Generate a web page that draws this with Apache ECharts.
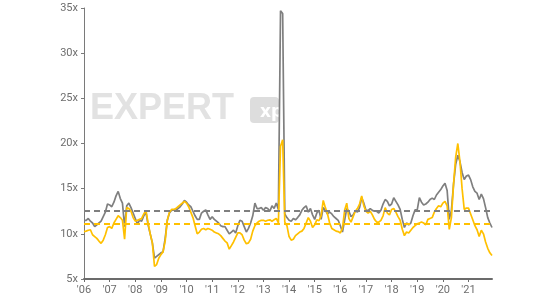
<!DOCTYPE html>
<html>
<head>
<meta charset="utf-8">
<script src="https://cdn.jsdelivr.net/npm/echarts@6/dist/echarts.min.js"></script>
<style>html,body{margin:0;padding:0;background:#fff}#c{width:550px;height:302px}</style>
</head>
<body>
<div id="c"></div>
<script>
// Monthly data, Jan 2006 .. Dec 2021
const startYear = 2006;
const monthCount = 192;
const yTicks = [5, 10, 15, 20, 25, 30, 35];
const greyAvg = 12.6;
const yellowAvg = 11.1;

const greySeries = [
  11.5, 11.5, 11.7, 11.4, 11.2, 10.8, 11.0, 11.2, 11.4, 11.9,
  12.4, 13.3, 13.2, 13.0, 13.5, 14.2, 14.7, 13.9, 13.4, 10.8,
  13.1, 13.4, 12.9, 12.3, 11.7, 11.1, 11.5, 11.4, 12.0, 12.4,
  11.0, 10.0, 9.0, 7.3, 7.5, 7.7, 7.9, 8.0, 9.5, 11.5,
  12.3, 12.6, 12.65, 12.6, 12.8, 13.0, 13.3, 13.7, 13.5, 13.2,
  13.0, 12.5, 12.0, 11.6, 11.6, 12.3, 12.5, 12.65, 12.1, 11.6,
  11.9, 11.6, 11.4, 11.2, 10.9, 10.8, 10.8, 10.4, 10.0, 10.2,
  10.4, 10.1, 10.9, 11.5, 11.4, 10.8, 10.2, 10.6, 11.2, 12.0,
  13.4, 12.8, 12.8, 12.9, 12.6, 12.9, 12.8, 12.5, 13.1, 12.8,
  13.4, 12.7, 34.7, 34.4, 12.2, 11.8, 11.5, 11.4, 11.7, 11.55,
  11.8, 12.1, 12.6, 12.9, 13.1, 12.4, 12.8, 12.1, 11.6, 12.3,
  12.6, 11.6, 12.9, 12.6, 12.2, 12.4, 12.2, 11.9, 11.7, 11.5,
  10.9, 10.2, 11.5, 12.8, 12.5, 11.9, 12.1, 12.55, 12.4, 12.9,
  14.0, 13.4, 12.6, 12.6, 12.8, 12.6, 12.5, 12.5, 12.3, 12.6,
  13.3, 13.8, 13.6, 13.1, 13.3, 14.0, 13.6, 13.2, 12.7, 11.6,
  10.7, 11.2, 11.0, 11.2, 12.0, 12.65, 12.65, 14.0, 13.5, 13.2,
  13.3, 13.5, 13.8, 13.95, 13.8, 14.3, 14.6, 14.9, 15.3, 15.6,
  14.8, 11.6, 12.6, 15.5, 17.7, 18.7, 18.0, 16.8, 16.0, 16.4,
  16.5, 16.0, 15.2, 14.7, 14.5, 13.8, 14.4, 13.9, 12.9, 11.8,
  11.2, 10.7
];

const yellowSeries = [
  10.25, 10.3, 10.4, 10.45, 9.9, 9.7, 9.5, 9.2, 8.95, 9.3,
  9.9, 10.7, 10.8, 10.6, 11.2, 11.6, 12.0, 11.8, 11.5, 9.4,
  12.9, 12.8, 12.5, 11.8, 11.4, 11.5, 11.6, 11.7, 12.2, 12.6,
  11.2, 10.0, 9.0, 6.4, 6.6, 7.3, 7.7, 8.0, 9.2, 11.5,
  12.4, 12.7, 12.7, 12.8, 13.0, 13.2, 13.4, 13.6, 13.4, 13.0,
  12.4, 11.8, 10.9, 10.0, 10.2, 10.5, 10.6, 10.45, 10.6, 10.5,
  10.4, 10.2, 10.1, 10.0, 9.8, 9.5, 9.2, 9.0, 8.3, 8.7,
  9.1, 9.6, 10.1, 10.1, 9.9, 9.3, 8.9, 9.0, 9.4, 10.3,
  10.9, 11.2, 11.4, 11.5, 11.5, 11.4, 11.5, 11.55, 11.4, 11.55,
  11.7, 11.2, 19.7, 20.4, 11.3, 10.9, 9.7, 9.3, 9.4, 9.8,
  10.0, 10.2, 10.3, 10.6, 11.2, 11.8, 11.4, 10.7, 11.0, 11.55,
  11.45, 12.0, 13.7, 12.9, 12.2, 11.2, 10.6, 10.45, 10.3, 10.25,
  10.1, 10.6, 12.6, 13.4, 11.7, 11.3, 11.9, 12.5, 12.8, 13.3,
  14.2, 13.1, 12.5, 12.3, 12.5, 12.1, 11.6, 11.3, 11.3, 11.5,
  12.0, 12.9, 12.3, 12.1, 12.7, 12.8, 12.4, 11.9, 11.5, 10.5,
  9.8, 10.2, 10.1, 10.4, 10.7, 10.9, 11.1, 11.2, 11.3, 11.2,
  11.0, 11.6, 11.7, 11.8, 12.4, 12.8, 13.1, 13.0, 13.4, 13.6,
  13.1, 10.5, 11.8, 15.5, 18.5, 20.0, 18.0, 15.0, 12.7, 12.85,
  12.85, 12.2, 11.55, 10.9, 10.45, 9.7, 10.4, 10.0, 9.1, 8.4,
  7.9, 7.6
];

const categories = [];
for (let i = 0; i < monthCount; i++) {
  const y = startYear + Math.floor(i / 12);
  const m = (i % 12) + 1;
  categories.push(y + '-' + (m < 10 ? '0' + m : m));
}

const chart = echarts.init(document.getElementById('c'), null, {renderer: 'canvas'});
const GREY = '#7f7f7f';
const GOLD = '#FFC000';

chart.setOption({
  animation: false,
  backgroundColor: '#ffffff',
  grid: {left: 84, right: 58, top: 8, bottom: 23, containLabel: false},
  graphic: [
    {type: 'text', left: 90, top: 91, z: 0, silent: true,
     style: {text: 'EXPERT', fontSize: 36, fontWeight: 'bold', fontFamily: 'Liberation Sans', fill: '#e2e2e2'}},
    {type: 'rect', left: 250, top: 97, z: 0, silent: true,
     shape: {width: 29, height: 26, r: 4}, style: {fill: '#dddddd'}},
    {type: 'text', left: 260, top: 104, z: 0, silent: true,
     style: {text: 'xp', fontSize: 17, fontWeight: 'bold', fontFamily: 'DejaVu Sans', fill: '#ffffff'}}
  ],
  xAxis: {
    type: 'category',
    data: categories,
    boundaryGap: false,
    axisLine: {show: true, lineStyle: {color: '#6b6b6b', width: 2}},
    axisTick: {show: true, length: 3, interval: function (idx) { return idx % 12 === 0; }, lineStyle: {color: '#6b6b6b'}},
    axisLabel: {
      interval: function (idx) { return idx % 12 === 0; },
      formatter: function (v) { return "'" + v.slice(2, 4); },
      color: '#6e6e6e', fontSize: 11, fontFamily: 'Roboto', margin: 6
    },
    splitLine: {show: false}
  },
  yAxis: {
    type: 'value',
    min: yTicks[0], max: yTicks[yTicks.length - 1], interval: 5,
    axisLine: {show: true, lineStyle: {color: '#7a7a7a', width: 1}},
    axisTick: {show: true, length: 3, lineStyle: {color: '#7a7a7a'}},
    axisLabel: {formatter: '{value}x', color: '#6e6e6e', fontSize: 11, fontFamily: 'Roboto', margin: 6},
    splitLine: {show: false}
  },
  series: [
    {
      type: 'line', data: greySeries, symbol: 'none', z: 3,
      lineStyle: {color: GREY, width: 1.7},
      markLine: {
        silent: true, symbol: 'none', label: {show: false},
        lineStyle: {color: GREY, type: [6, 4], width: 2},
        data: [{yAxis: greyAvg}]
      }
    },
    {
      type: 'line', data: yellowSeries, symbol: 'none', z: 4,
      lineStyle: {color: GOLD, width: 1.7},
      markLine: {
        silent: true, symbol: 'none', label: {show: false},
        lineStyle: {color: GOLD, type: [6, 4], width: 2},
        data: [{yAxis: yellowAvg}]
      }
    }
  ]
});
</script>
</body>
</html>
